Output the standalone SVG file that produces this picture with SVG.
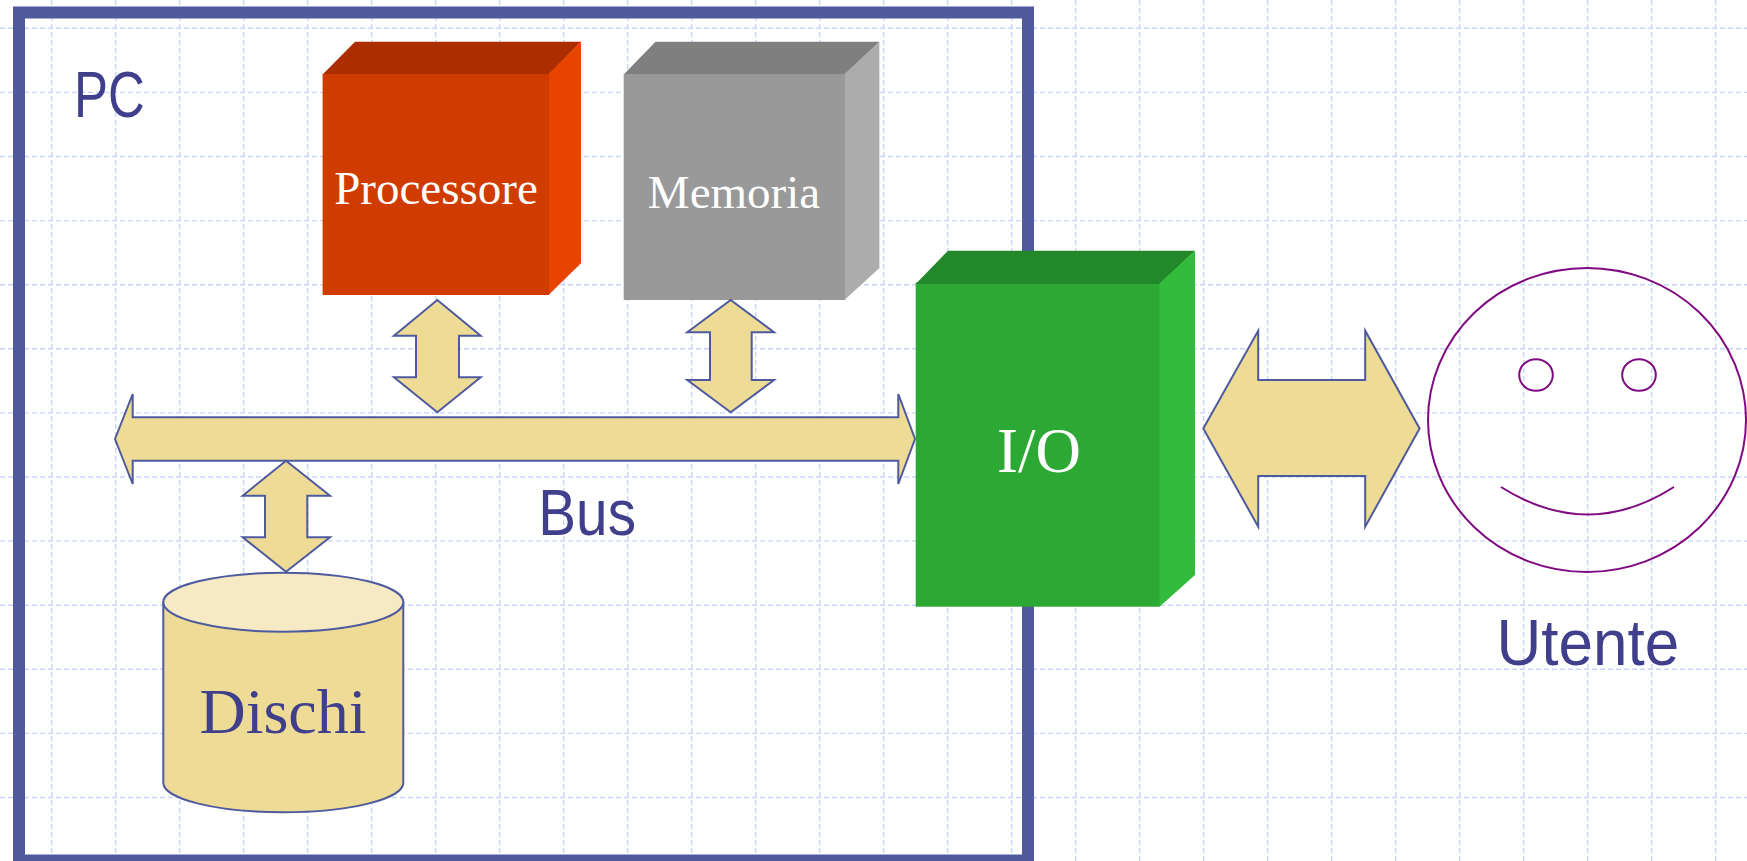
<svg xmlns="http://www.w3.org/2000/svg" width="1747" height="861" viewBox="0 0 1747 861">
<style>
.grid{fill:none;stroke:#c8d5f7;stroke-width:1.4;stroke-dasharray:5 3}
.frame{fill:none;stroke:#4f599c;stroke-width:12}
.arrow{fill:#eedc96;stroke:#4f5a9e;stroke-width:2;stroke-linejoin:miter}
.sans{font-family:"Liberation Sans",Arial,sans-serif;fill:#3f3f8c}
.serif{font-family:"Liberation Serif","Times New Roman",serif}
.face{fill:none;stroke:#800a80;stroke-width:2}
</style>
<rect width="1747" height="861" fill="#ffffff"/>
<g id="grid">
<path class="grid" d="M51.7 0V861M115.7 0V861M179.7 0V861M243.7 0V861M307.7 0V861M371.7 0V861M435.7 0V861M499.7 0V861M563.7 0V861M627.7 0V861M691.7 0V861M755.7 0V861M819.7 0V861M883.7 0V861M947.7 0V861M1011.7 0V861M1075.7 0V861M1139.7 0V861M1203.7 0V861M1267.7 0V861M1331.7 0V861M1395.7 0V861M1459.7 0V861M1523.7 0V861M1587.7 0V861M1651.7 0V861M1715.7 0V861"/>
<path class="grid" d="M0 28.3H1747M0 92.4H1747M0 156.5H1747M0 220.6H1747M0 284.7H1747M0 348.8H1747M0 412.9H1747M0 477H1747M0 541.1H1747M0 605.2H1747M0 669.3H1747M0 733.4H1747M0 797.5H1747"/>
</g>
<g id="pc">
<rect class="frame" x="19" y="12.5" width="1009" height="848"/>
<text class="sans" x="73.9" y="117.3" font-size="64" textLength="70.8" lengthAdjust="spacingAndGlyphs">PC</text>
</g>
<g id="processore">
<polygon points="322.6,74.5 355,41.7 581,41.7 549,74.5" fill="#aa2e00"/>
<polygon points="548.5,74 581,41.7 581,263.3 548.5,295" fill="#e84400"/>
<rect x="322.6" y="74" width="226.6" height="221" fill="#d03c00"/>
<text class="serif" x="436" y="204" font-size="47" fill="#ffffff" text-anchor="middle">Processore</text>
</g>
<g id="memoria">
<polygon points="623.7,74.5 655.5,41.7 879.4,41.7 845,74.5" fill="#7f7f7f"/>
<polygon points="844.5,74 879.4,41.7 879.4,268 844.5,300" fill="#acacac"/>
<rect x="623.7" y="74" width="221.3" height="226" fill="#999999"/>
<text class="serif" x="734" y="208" font-size="47" fill="#ffffff" text-anchor="middle">Memoria</text>
</g>
<g id="dischi">
<path d="M163.3 602.2V782.7A120 29.6 0 0 0 403.3 782.7V602.2Z" fill="#eedc96" stroke="#4f5a9e" stroke-width="2"/>
<ellipse cx="283.3" cy="602.2" rx="120" ry="29.5" fill="#f5eac4" stroke="#4f5a9e" stroke-width="2"/>
<text class="serif" x="283" y="733.3" font-size="64" fill="#3f3f8c" text-anchor="middle">Dischi</text>
</g>
<g id="connectors">
<polygon class="arrow" points="115,439 132.7,394 132.7,417.3 898.3,417.3 898.3,394 915,439 898.3,484 898.3,460.7 132.7,460.7 132.7,484"/>
<polygon class="arrow" points="437.3,300 480.7,335.7 459,335.7 459,377.3 480.7,377.3 437.3,412.3 394,377.3 416,377.3 416,335.7 394,335.7"/>
<polygon class="arrow" points="730.7,300 774,332.3 751.7,332.3 751.7,380 774,380 730.7,412.3 687.3,380 710,380 710,332.3 687.3,332.3"/>
<polygon class="arrow" points="286,460.7 330,495.7 307.3,495.7 307.3,537.3 330,537.3 286,571.7 242.7,537.3 265,537.3 265,495.7 242.7,495.7"/>
<polygon class="arrow" points="1203.3,428.5 1258.2,330.7 1258.2,380 1365.2,380 1365.2,330.7 1419.6,428.5 1365.2,526.7 1365.2,476 1258.2,476 1258.2,526.7"/>
<text class="sans" x="538.3" y="535" font-size="65" textLength="97.7" lengthAdjust="spacingAndGlyphs">Bus</text>
</g>
<g id="io">
<rect x="915.7" y="282.5" width="244.3" height="324.2" fill="#2ca834"/>
<polygon points="915.7,284 948,250.7 1195,250.7 1160,284" fill="#22882a"/>
<polygon points="1159.5,283.3 1195,250.7 1195,575 1159.5,606.7" fill="#33bb3b"/>
<text class="serif" x="1039" y="471.7" font-size="63" fill="#ffffff" text-anchor="middle">I/O</text>
</g>
<g id="utente">
<ellipse class="face" cx="1587" cy="420" rx="159" ry="152"/>
<ellipse class="face" cx="1536" cy="375" rx="16.8" ry="15.8"/>
<ellipse class="face" cx="1639" cy="375" rx="16.8" ry="15.8"/>
<path class="face" d="M1501 487Q1588 542 1674 487"/>
<text class="sans" x="1496.5" y="665" font-size="65" textLength="182.8" lengthAdjust="spacingAndGlyphs">Utente</text>
</g>
</svg>
